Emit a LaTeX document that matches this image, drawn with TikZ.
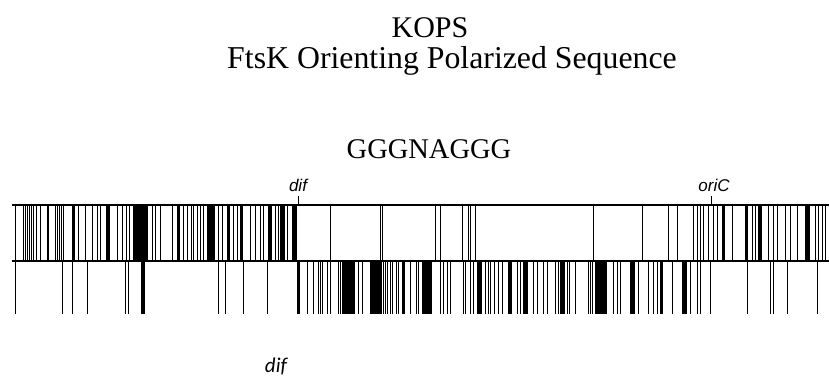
\documentclass[tikz,border=0pt]{standalone}
\usepackage{fontspec}
\setmainfont{Liberation Serif}
\newfontfamily\lsans{Liberation Sans}
\newfontfamily\carl{Carlito}
\begin{document}
\begin{tikzpicture}[x=1pt,y=-1pt,
  bar/.style={line width=1pt,black},
  blk/.style={fill=black,draw=none},
  hline/.style={line width=1.1pt,black},
  ttl/.style={font=\fontsize{30}{30}\selectfont,inner sep=0pt,anchor=base},
  lab/.style={font=\lsans\itshape\fontsize{17}{17}\selectfont,inner sep=0pt,anchor=base}]
\useasboundingbox[fill=white] (0,0) rectangle (829,378);
% titles
\node[ttl] (kops) at (430,37) {KOPS};
\node[ttl,font=\fontsize{31.8}{31.8}\selectfont] (full) at (452,68) {FtsK Orienting Polarized Sequence};
\node[ttl,font=\fontsize{28.5}{28.5}\selectfont] (seq) at (429,158) {GGGNAGGG};
% top row bars
\foreach \x in {15,23,25,27,29,31,33,36,40,55,57,59,61,63,78,85,92,97,100,117,122,126,129,152,155,160,172,183,187,191,193,197,200,203,218,222,233,237,250,255,260,263,275,278,287,330,380,382,435,440,462,468,470,475,593,642,668,677,693,697,700,703,708,713,717,732,752,755,768,773,777,785,790,797,815,818,822,825}
  \draw[bar] (\x,205) -- (\x,261);
\foreach \a/\b in {47/49,72/75,106/110,133/148,177/180,207/215,227/230,240/243,268/272,280/285,292/297,722/725,745/748,758/762,805/810}
  \fill[blk] (\a,205) rectangle (\b,261);
% bottom row bars
\foreach \x in {15,62,72,87,125,128,218,225,243,267,307,313,318,320,322,327,330,338,340,342,358,362,383,385,387,390,392,396,398,410,416,418,440,443,447,450,463,465,470,473,485,488,490,494,498,502,517,520,533,537,543,547,555,558,567,569,575,588,590,592,613,617,620,638,648,653,657,672,690,697,700,710,747,770,773,787,817}
  \draw[bar] (\x,261) -- (\x,314);
\foreach \a/\b in {141/145,297/300,343/355,370/382,402/405,422/432,477/482,508/512,523/528,560/565,595/607,630/635,660/663,682/687}
  \fill[blk] (\a,261) rectangle (\b,314);
% horizontal lines
\draw[hline] (12,205) -- (829,205);
\draw[hline] (12,261) -- (829,261);
% ticks and labels
\coordinate (difT) at (298.5,196);
\coordinate (difB) at (298.5,205);
\coordinate (oriT) at (711.5,196);
\coordinate (oriB) at (711.5,205);
\draw[line width=0.9pt] (difT) -- (difB);
\draw[line width=0.9pt] (oriT) -- (oriB);
\node[lab] (dif) at (298,191) {dif};
\node[lab] (oric) at (714,191) {oriC};
\node[font=\carl\itshape\fontsize{21}{21}\selectfont,inner sep=0pt,anchor=base] (dif2) at (276,372) {dif};
\end{tikzpicture}
\end{document}
